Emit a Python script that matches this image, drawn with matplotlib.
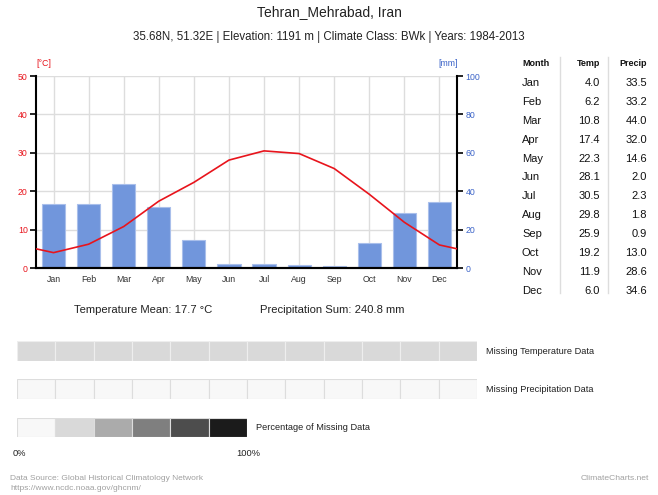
import numpy as np
import matplotlib.pyplot as plt

plt.rcParams['font.family'] = ['Liberation Sans', 'DejaVu Sans']

# Data
months = ['Jan', 'Feb', 'Mar', 'Apr', 'May', 'Jun', 'Jul', 'Aug', 'Sep', 'Oct', 'Nov', 'Dec']
temp = [4.0, 6.2, 10.8, 17.4, 22.3, 28.1, 30.5, 29.8, 25.9, 19.2, 11.9, 6.0]
precip = [33.5, 33.2, 44.0, 32.0, 14.6, 2.0, 2.3, 1.8, 0.9, 13.0, 28.6, 34.6]
temp_mean = 17.7
precip_sum = 240.8
missing_temp = [20] * 12      # percent, drawn as light grey
missing_precip = [0] * 12
legend_levels = [0, 20, 40, 60, 80, 100]
legend_colors = ['#f8f8f8', '#d9d9d9', '#ababab', '#7f7f7f', '#4d4d4d', '#1b1b1b']

W, H = 658, 495
fig = plt.figure(figsize=(W / 100, H / 100), dpi=100)


def px_axes(x0, y0, x1, y1):
    return fig.add_axes([x0 / W, 1 - y1 / H, (x1 - x0) / W, (y1 - y0) / H])


def ftext(x, y, s, **kw):
    return fig.text(x / W, 1 - y / H, s, va='center', **kw)


# titles
ftext(329, 12, 'Tehran_Mehrabad, Iran', ha='center', fontsize=10, color='#222')
ftext(329, 37, '35.68N, 51.32E | Elevation: 1191 m | Climate Class: BWk | Years: 1984-2013',
      ha='center', fontsize=8.3, color='#222')

# main chart
ax = px_axes(36, 76, 457, 268)
ax2 = ax.twinx()
x = np.arange(12)
ax2.bar(x, precip, width=0.66, color='#7196dc', edgecolor='#a9bfeb', linewidth=0.8, zorder=2)
ax2.set_ylim(0, 100)
ax2.set_yticks(np.arange(0, 101, 20))
ax2.tick_params(axis='y', labelcolor='#3c64c8', color='black', labelsize=6.3, length=4, width=1.2, pad=2)

# temperature line wraps to the edges
edge = (temp[-1] + temp[0]) / 2
tx = np.concatenate([[-0.5], x, [11.5]])
ty = np.concatenate([[edge], temp, [edge]])
ax.set_zorder(ax2.get_zorder() + 1)
ax.patch.set_visible(False)
ax.plot(tx, ty, color='#e8141c', linewidth=1.2, zorder=3)
ax.set_xlim(-0.5, 11.5)
ax.set_ylim(0, 50)
ax.set_yticks(np.arange(0, 51, 10))
ax.set_xticks(x)
ax.set_xticklabels(months)
ax.tick_params(axis='y', labelcolor='#e8141c', labelsize=6.3, length=4, width=1.2, pad=2)
ax.tick_params(axis='x', labelsize=6.3, labelcolor='#333', length=0, pad=5)

# grid drawn on the back axes
ax2.set_xlim(-0.5, 11.5)
for v in np.arange(10, 51, 10):
    ax2.axhline(v * 2, color='#dddddd', linewidth=1, zorder=0)
for xi in x:
    ax2.axvline(xi, color='#dddddd', linewidth=1, zorder=0)

for a in (ax, ax2):
    a.spines['top'].set_visible(False)
    for s in ('left', 'right', 'bottom'):
        a.spines[s].set_linewidth(1.5)
ax.spines['right'].set_visible(False)
ax2.spines['left'].set_visible(False)

ftext(36, 64, '[°C]', ha='left', fontsize=6.3, color='#e8141c')
ftext(458, 64, '[mm]', ha='right', fontsize=6.3, color='#3c64c8')

# summary
ftext(143, 310, f'Temperature Mean: {temp_mean:.1f} °C', ha='center', fontsize=8.1, color='#222')
ftext(332, 310, f'Precipitation Sum: {precip_sum:.1f} mm', ha='center', fontsize=8.1, color='#222')

# table
ftext(522, 64, 'Month', ha='left', fontsize=6.5, weight='bold', color='#111')
ftext(600, 64, 'Temp', ha='right', fontsize=6.5, weight='bold', color='#111')
ftext(647, 64, 'Precip', ha='right', fontsize=6.5, weight='bold', color='#111')
for i, m in enumerate(months):
    yy = 83 + i * 18.9
    ftext(522, yy, m, ha='left', fontsize=8, color='#111')
    ftext(600, yy, f'{temp[i]:.1f}', ha='right', fontsize=8, color='#111')
    ftext(647, yy, f'{precip[i]:.1f}', ha='right', fontsize=8, color='#111')
for xv in (560, 608):
    fig.add_artist(plt.Line2D([xv / W, xv / W], [1 - 57 / H, 1 - 293 / H], color='#dddddd', linewidth=1))


# missing data strips
def gray_for(p):
    idx = int(np.argmin([abs(p - l) for l in legend_levels]))
    return legend_colors[idx]


def strip(y0, y1, x0, x1, colors, edgecol):
    a = px_axes(x0, y0, x1, y1)
    n = len(colors)
    a.bar(np.arange(n), [1] * n, width=1, color=colors, edgecolor=edgecol, linewidth=0.8)
    a.set_xlim(-0.5, n - 0.5)
    a.set_ylim(0, 1)
    a.axis('off')
    return a


cell = (477 - 17) / 12
strip(341, 361, 17, 477, [gray_for(p) for p in missing_temp], '#eeeeee')
ftext(486, 352, 'Missing Temperature Data', ha='left', fontsize=6.7, color='#222')
strip(379, 399, 17, 477, [gray_for(p) for p in missing_precip], '#dddddd')
ftext(486, 390, 'Missing Precipitation Data', ha='left', fontsize=6.7, color='#222')
strip(418, 437, 17, 17 + cell * len(legend_colors), legend_colors, '#dddddd')
ftext(256, 428, 'Percentage of Missing Data', ha='left', fontsize=6.7, color='#222')
ftext(13, 453, '0%', ha='left', fontsize=6.7, color='#222')
ftext(248, 453, '100%', ha='center', fontsize=6.7, color='#222')

# footer
ftext(10, 479, 'Data Source: Global Historical Climatology Network', ha='left', fontsize=6.0, color='#a0a0a0')
ftext(10, 489, 'https://www.ncdc.noaa.gov/ghcnm/', ha='left', fontsize=6.0, color='#a0a0a0')
ftext(649, 479, 'ClimateCharts.net', ha='right', fontsize=6.1, color='#a0a0a0')

fig.savefig('out.png', dpi=100)
